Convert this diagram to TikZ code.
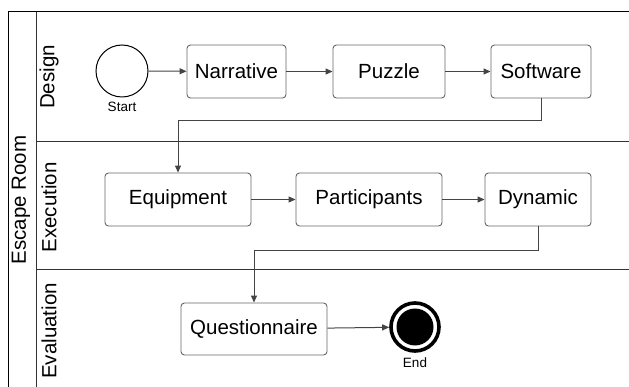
\documentclass[tikz,border=0pt]{standalone}
\usepackage{fontspec}
\setmainfont{Liberation Sans}
\usetikzlibrary{arrows.meta}
\definecolor{boxline}{HTML}{666666}
\definecolor{conn}{HTML}{444444}
\definecolor{laneline}{HTML}{333333}
\begin{document}
\begin{tikzpicture}[x=1pt,y=-1pt,
  task/.style={draw=boxline,line width=0.9pt,rounded corners=3.5pt,minimum height=53pt,inner sep=0pt,font=\fontsize{20.5}{24}\selectfont},
  conn/.style={draw=conn,line width=1pt,-{Triangle[length=7pt,width=6pt]}},
  lane/.style={draw=laneline,line width=1pt},
  lanelabel/.style={rotate=90,font=\fontsize{20.5}{24}\selectfont,inner sep=0pt},
  small/.style={font=\fontsize{13.5}{16}\selectfont,inner sep=0pt}]
\useasboundingbox (0,0) rectangle (629,387);
\fill[white] (0,0) rectangle (629,387);
% pool and lanes
\draw[line width=1pt,black] (629,12) -- (8,12) -- (8,387);
\draw[lane] (36,12) -- (36,387);
\draw[lane] (36,142) -- (629,142);
\draw[lane] (36,270) -- (629,270);
\node[lanelabel] (pool) at (21,200) {Escape Room};
\node[lanelabel] (ldesign) at (49,77) {Design};
\node[lanelabel] (lexec) at (49,207.5) {Execution};
\node[lanelabel] (leval) at (49,331) {Evaluation};
% design lane
\node[draw=black,line width=1pt,circle,minimum size=52pt,inner sep=0pt] (start) at (122,71) {};
\node[small] (startlbl) at (122,107) {Start};
\node[task,minimum width=99pt] (narr) at (236.5,71.5) {Narrative};
\node[task,minimum width=112pt] (puz) at (389,71.5) {Puzzle};
\node[task,minimum width=100pt] (soft) at (541,71.5) {Software};
% execution lane
\node[task,minimum width=146pt] (equip) at (178,199.5) {Equipment};
\node[task,minimum width=146pt] (part) at (369,199.5) {Participants};
\node[task,minimum width=106pt] (dyn) at (538,199.5) {Dynamic};
% evaluation lane
\node[task,minimum width=146pt,minimum height=52pt] (quest) at (254,329) {Questionnaire};
\node[circle,draw=black,line width=3.6pt,minimum size=48pt,inner sep=0pt] (end) at (415,327) {};
\fill[black] (end.center) circle (18.5pt);
\node[small] (endlbl) at (415,363) {End};
% connectors
\draw[conn] (start) -- (narr);
\draw[conn] (narr) -- (puz);
\draw[conn] (puz) -- (soft);
\draw[conn] (soft.south) -- (541,121) -- (178,121) -- (equip.north);
\draw[conn] (equip) -- (part);
\draw[conn] (part) -- (dyn);
\draw[conn] (dyn.south) -- (538,251) -- (254,251) -- (quest.north);
\draw[conn] (quest) -- (end);
\end{tikzpicture}
\end{document}
